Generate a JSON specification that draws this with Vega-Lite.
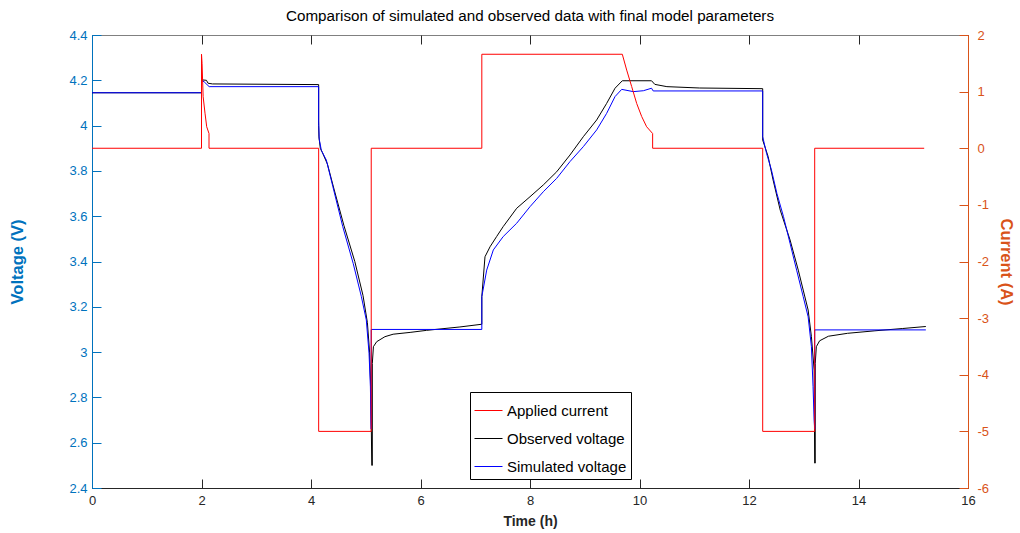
{
  "$schema": "https://vega.github.io/schema/vega-lite/v6.json",
  "width": 876,
  "height": 453,
  "autosize": {"type": "none"},
  "padding": {"left": 92, "top": 35, "right": 52, "bottom": 45},
  "background": "white",
  "config": {
    "font": "Liberation Sans",
    "view": {"stroke": "#808080", "strokeWidth": 1},
    "axis": {"grid": false}
  },
  "title": {
    "text": "Comparison of simulated and observed data with final model parameters",
    "fontSize": 15.2,
    "fontWeight": "normal",
    "color": "#000000",
    "offset": 5,
    "anchor": "middle"
  },
  "datasets": {
    "voltage": [
      {"t": 0, "v": 4.145, "s": "Observed voltage"},
      {"t": 2.0, "v": 4.145, "s": "Observed voltage"},
      {"t": 2.0, "v": 4.202, "s": "Observed voltage"},
      {"t": 2.09, "v": 4.2, "s": "Observed voltage"},
      {"t": 2.12, "v": 4.187, "s": "Observed voltage"},
      {"t": 2.2, "v": 4.184, "s": "Observed voltage"},
      {"t": 4.14, "v": 4.181, "s": "Observed voltage"},
      {"t": 4.14, "v": 4.0, "s": "Observed voltage"},
      {"t": 4.145, "v": 3.95, "s": "Observed voltage"},
      {"t": 4.17, "v": 3.9, "s": "Observed voltage"},
      {"t": 4.21, "v": 3.88, "s": "Observed voltage"},
      {"t": 4.3, "v": 3.83, "s": "Observed voltage"},
      {"t": 4.42, "v": 3.72, "s": "Observed voltage"},
      {"t": 4.6, "v": 3.56, "s": "Observed voltage"},
      {"t": 4.8, "v": 3.4, "s": "Observed voltage"},
      {"t": 4.95, "v": 3.25, "s": "Observed voltage"},
      {"t": 5.03, "v": 3.13, "s": "Observed voltage"},
      {"t": 5.07, "v": 3.0, "s": "Observed voltage"},
      {"t": 5.09, "v": 2.85, "s": "Observed voltage"},
      {"t": 5.1, "v": 2.7, "s": "Observed voltage"},
      {"t": 5.11, "v": 2.5, "s": "Observed voltage"},
      {"t": 5.12, "v": 2.5, "s": "Observed voltage"},
      {"t": 5.12, "v": 2.95, "s": "Observed voltage"},
      {"t": 5.14, "v": 3.024, "s": "Observed voltage"},
      {"t": 5.2, "v": 3.046, "s": "Observed voltage"},
      {"t": 5.35, "v": 3.068, "s": "Observed voltage"},
      {"t": 5.5, "v": 3.079, "s": "Observed voltage"},
      {"t": 5.81, "v": 3.087, "s": "Observed voltage"},
      {"t": 6.11, "v": 3.096, "s": "Observed voltage"},
      {"t": 6.72, "v": 3.111, "s": "Observed voltage"},
      {"t": 7.12, "v": 3.123, "s": "Observed voltage"},
      {"t": 7.12, "v": 3.245, "s": "Observed voltage"},
      {"t": 7.178, "v": 3.421, "s": "Observed voltage"},
      {"t": 7.27, "v": 3.465, "s": "Observed voltage"},
      {"t": 7.39, "v": 3.51, "s": "Observed voltage"},
      {"t": 7.51, "v": 3.554, "s": "Observed voltage"},
      {"t": 7.757, "v": 3.635, "s": "Observed voltage"},
      {"t": 8.0, "v": 3.686, "s": "Observed voltage"},
      {"t": 8.243, "v": 3.738, "s": "Observed voltage"},
      {"t": 8.487, "v": 3.796, "s": "Observed voltage"},
      {"t": 8.73, "v": 3.87, "s": "Observed voltage"},
      {"t": 8.974, "v": 3.951, "s": "Observed voltage"},
      {"t": 9.218, "v": 4.025, "s": "Observed voltage"},
      {"t": 9.4, "v": 4.098, "s": "Observed voltage"},
      {"t": 9.553, "v": 4.165, "s": "Observed voltage"},
      {"t": 9.686, "v": 4.198, "s": "Observed voltage"},
      {"t": 10.22, "v": 4.198, "s": "Observed voltage"},
      {"t": 10.28, "v": 4.182, "s": "Observed voltage"},
      {"t": 10.5, "v": 4.172, "s": "Observed voltage"},
      {"t": 11.1, "v": 4.166, "s": "Observed voltage"},
      {"t": 12.25, "v": 4.163, "s": "Observed voltage"},
      {"t": 12.25, "v": 3.936, "s": "Observed voltage"},
      {"t": 12.35, "v": 3.863, "s": "Observed voltage"},
      {"t": 12.44, "v": 3.76, "s": "Observed voltage"},
      {"t": 12.57, "v": 3.627, "s": "Observed voltage"},
      {"t": 12.75, "v": 3.495, "s": "Observed voltage"},
      {"t": 12.9, "v": 3.362, "s": "Observed voltage"},
      {"t": 12.99, "v": 3.274, "s": "Observed voltage"},
      {"t": 13.08, "v": 3.186, "s": "Observed voltage"},
      {"t": 13.14, "v": 3.068, "s": "Observed voltage"},
      {"t": 13.19, "v": 2.921, "s": "Observed voltage"},
      {"t": 13.2, "v": 2.51, "s": "Observed voltage"},
      {"t": 13.21, "v": 2.51, "s": "Observed voltage"},
      {"t": 13.21, "v": 2.95, "s": "Observed voltage"},
      {"t": 13.23, "v": 3.024, "s": "Observed voltage"},
      {"t": 13.29, "v": 3.05, "s": "Observed voltage"},
      {"t": 13.45, "v": 3.07, "s": "Observed voltage"},
      {"t": 13.8, "v": 3.083, "s": "Observed voltage"},
      {"t": 14.3, "v": 3.094, "s": "Observed voltage"},
      {"t": 14.8, "v": 3.104, "s": "Observed voltage"},
      {"t": 15.23, "v": 3.113, "s": "Observed voltage"},
      {"t": 0, "v": 4.145, "s": "Simulated voltage"},
      {"t": 2.0, "v": 4.145, "s": "Simulated voltage"},
      {"t": 2.0, "v": 4.2, "s": "Simulated voltage"},
      {"t": 2.05, "v": 4.193, "s": "Simulated voltage"},
      {"t": 2.14, "v": 4.172, "s": "Simulated voltage"},
      {"t": 4.14, "v": 4.172, "s": "Simulated voltage"},
      {"t": 4.14, "v": 4.02, "s": "Simulated voltage"},
      {"t": 4.15, "v": 3.94, "s": "Simulated voltage"},
      {"t": 4.19, "v": 3.89, "s": "Simulated voltage"},
      {"t": 4.28, "v": 3.848, "s": "Simulated voltage"},
      {"t": 4.4, "v": 3.73, "s": "Simulated voltage"},
      {"t": 4.58, "v": 3.554, "s": "Simulated voltage"},
      {"t": 4.77, "v": 3.392, "s": "Simulated voltage"},
      {"t": 4.92, "v": 3.245, "s": "Simulated voltage"},
      {"t": 5.01, "v": 3.142, "s": "Simulated voltage"},
      {"t": 5.06, "v": 2.995, "s": "Simulated voltage"},
      {"t": 5.085, "v": 2.847, "s": "Simulated voltage"},
      {"t": 5.095, "v": 2.7, "s": "Simulated voltage"},
      {"t": 5.1, "v": 2.66, "s": "Simulated voltage"},
      {"t": 5.1, "v": 3.1, "s": "Simulated voltage"},
      {"t": 7.12, "v": 3.1, "s": "Simulated voltage"},
      {"t": 7.12, "v": 3.245, "s": "Simulated voltage"},
      {"t": 7.209, "v": 3.362, "s": "Simulated voltage"},
      {"t": 7.33, "v": 3.451, "s": "Simulated voltage"},
      {"t": 7.51, "v": 3.51, "s": "Simulated voltage"},
      {"t": 7.757, "v": 3.569, "s": "Simulated voltage"},
      {"t": 8.0, "v": 3.642, "s": "Simulated voltage"},
      {"t": 8.243, "v": 3.708, "s": "Simulated voltage"},
      {"t": 8.487, "v": 3.767, "s": "Simulated voltage"},
      {"t": 8.73, "v": 3.841, "s": "Simulated voltage"},
      {"t": 8.974, "v": 3.907, "s": "Simulated voltage"},
      {"t": 9.218, "v": 3.981, "s": "Simulated voltage"},
      {"t": 9.4, "v": 4.054, "s": "Simulated voltage"},
      {"t": 9.553, "v": 4.128, "s": "Simulated voltage"},
      {"t": 9.675, "v": 4.16, "s": "Simulated voltage"},
      {"t": 9.887, "v": 4.15, "s": "Simulated voltage"},
      {"t": 10.07, "v": 4.154, "s": "Simulated voltage"},
      {"t": 10.22, "v": 4.165, "s": "Simulated voltage"},
      {"t": 10.25, "v": 4.153, "s": "Simulated voltage"},
      {"t": 12.25, "v": 4.153, "s": "Simulated voltage"},
      {"t": 12.25, "v": 3.951, "s": "Simulated voltage"},
      {"t": 12.32, "v": 3.878, "s": "Simulated voltage"},
      {"t": 12.41, "v": 3.804, "s": "Simulated voltage"},
      {"t": 12.51, "v": 3.7, "s": "Simulated voltage"},
      {"t": 12.63, "v": 3.598, "s": "Simulated voltage"},
      {"t": 12.75, "v": 3.48, "s": "Simulated voltage"},
      {"t": 12.87, "v": 3.362, "s": "Simulated voltage"},
      {"t": 12.99, "v": 3.245, "s": "Simulated voltage"},
      {"t": 13.08, "v": 3.156, "s": "Simulated voltage"},
      {"t": 13.14, "v": 3.024, "s": "Simulated voltage"},
      {"t": 13.17, "v": 2.847, "s": "Simulated voltage"},
      {"t": 13.19, "v": 2.7, "s": "Simulated voltage"},
      {"t": 13.2, "v": 2.66, "s": "Simulated voltage"},
      {"t": 13.2, "v": 3.098, "s": "Simulated voltage"},
      {"t": 15.23, "v": 3.098, "s": "Simulated voltage"}
    ],
    "current": [
      {"t": 0, "a": 0, "s": "Applied current"},
      {"t": 2.0, "a": 0, "s": "Applied current"},
      {"t": 2.0, "a": 1.66, "s": "Applied current"},
      {"t": 2.01, "a": 1.5, "s": "Applied current"},
      {"t": 2.02, "a": 1.2, "s": "Applied current"},
      {"t": 2.03, "a": 0.91, "s": "Applied current"},
      {"t": 2.064, "a": 0.62, "s": "Applied current"},
      {"t": 2.095, "a": 0.38, "s": "Applied current"},
      {"t": 2.137, "a": 0.26, "s": "Applied current"},
      {"t": 2.137, "a": 0, "s": "Applied current"},
      {"t": 4.14, "a": 0, "s": "Applied current"},
      {"t": 4.14, "a": -5, "s": "Applied current"},
      {"t": 5.1, "a": -5, "s": "Applied current"},
      {"t": 5.1, "a": 0, "s": "Applied current"},
      {"t": 7.12, "a": 0, "s": "Applied current"},
      {"t": 7.12, "a": 1.66, "s": "Applied current"},
      {"t": 9.686, "a": 1.66, "s": "Applied current"},
      {"t": 9.766, "a": 1.38, "s": "Applied current"},
      {"t": 9.857, "a": 1.09, "s": "Applied current"},
      {"t": 9.949, "a": 0.79, "s": "Applied current"},
      {"t": 10.04, "a": 0.56, "s": "Applied current"},
      {"t": 10.13, "a": 0.38, "s": "Applied current"},
      {"t": 10.24, "a": 0.26, "s": "Applied current"},
      {"t": 10.24, "a": 0, "s": "Applied current"},
      {"t": 12.25, "a": 0, "s": "Applied current"},
      {"t": 12.25, "a": -5, "s": "Applied current"},
      {"t": 13.2, "a": -5, "s": "Applied current"},
      {"t": 13.2, "a": 0, "s": "Applied current"},
      {"t": 15.2, "a": 0, "s": "Applied current"}
    ]
  },
  "layer": [
    {
      "data": {"name": "voltage"},
      "mark": {"type": "line", "strokeWidth": 1},
      "encoding": {
        "x": {"field": "t", "type": "quantitative",
          "scale": {"domain": [0, 16], "nice": false, "zero": false},
          "axis": {"orient": "bottom", "values": [0, 2, 4, 6, 8, 10, 12, 14, 16], "title": "Time (h)", "labelFlush": false,
            "domainColor": "#262626", "tickColor": "#262626", "labelColor": "#262626", "titleColor": "#262626",
            "labelFontSize": 13, "titleFontSize": 14, "titleFontWeight": "bold", "tickSize": -9, "labelPadding": 15, "titlePadding": 7}},
        "y": {"field": "v", "type": "quantitative",
          "scale": {"domain": [2.4, 4.4], "nice": false, "zero": false},
          "axis": {"orient": "left", "values": [2.4, 2.6, 2.8, 3, 3.2, 3.4, 3.6, 3.8, 4, 4.2, 4.4], "format": "~g", "labelFlush": false,
            "title": "Voltage (V)", "domainColor": "#0072BD", "tickColor": "#0072BD", "labelColor": "#0072BD", "titleColor": "#0072BD",
            "labelFontSize": 13, "titleFontSize": 16.5, "titleFontWeight": "bold", "tickSize": -9, "labelPadding": 14, "titlePadding": 43}},
        "order": {"value": null},
        "color": {"field": "s", "type": "nominal",
          "scale": {"domain": ["Applied current", "Observed voltage", "Simulated voltage"], "range": ["#FF0000", "#000000", "#0000FF"]},
          "legend": {"orient": "none", "legendX": 378, "legendY": 357, "title": null, "symbolType": "stroke", "symbolSize": 784,
            "symbolStrokeWidth": 1, "labelFontSize": 15, "labelColor": "#000000", "labelOffset": 4, "padding": 4, "rowPadding": 5,
            "strokeColor": "#000000", "fillColor": "#FFFFFF",
            "encode": {"symbols": {"update": {"stroke": {"scale": "color", "field": "value"}}}}}}
      }
    },
    {
      "data": {"name": "current"},
      "mark": {"type": "line", "strokeWidth": 1},
      "encoding": {
        "x": {"field": "t", "type": "quantitative",
          "axis": {"orient": "top", "values": [0, 2, 4, 6, 8, 10, 12, 14, 16], "labels": false, "title": null, "domain": false,
            "tickColor": "#262626", "tickSize": -9}},
        "y": {"field": "a", "type": "quantitative",
          "scale": {"domain": [-6, 2], "nice": false, "zero": false},
          "axis": {"orient": "right", "values": [-6, -5, -4, -3, -2, -1, 0, 1, 2], "labelExpr": "toString(datum.value)", "labelFlush": false,
            "title": "Current (A)", "domainColor": "#D95319", "tickColor": "#D95319", "labelColor": "#D95319", "titleColor": "#D95319",
            "labelFontSize": 13, "titleFontSize": 16.5, "titleFontWeight": "bold", "tickSize": -9, "labelPadding": 18, "titlePadding": 9}},
        "order": {"value": null},
        "color": {"field": "s", "type": "nominal"}
      }
    }
  ],
  "resolve": {"scale": {"y": "independent"}, "axis": {"x": "independent"}}
}
